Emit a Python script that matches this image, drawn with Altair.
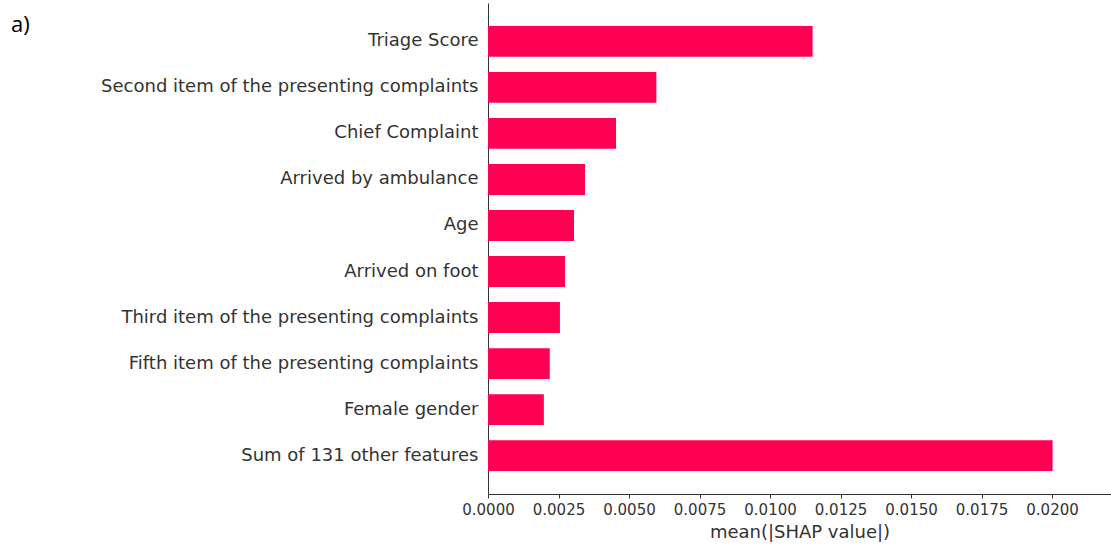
import altair as alt
import pandas as pd

features = [
    "Triage Score",
    "Second item of the presenting complaints",
    "Chief Complaint",
    "Arrived by ambulance",
    "Age",
    "Arrived on foot",
    "Third item of the presenting complaints",
    "Fifth item of the presenting complaints",
    "Female gender",
    "Sum of 131 other features",
]
mean_abs_shap = [0.01151, 0.00597, 0.00454, 0.00344, 0.00305, 0.00273, 0.00255, 0.00219, 0.00198, 0.02002]
x_ticks = [0.0, 0.0025, 0.005, 0.0075, 0.01, 0.0125, 0.015, 0.0175, 0.02]
panel_label = ["a)"]

df = pd.DataFrame({"feature": features, "value": mean_abs_shap})

bars = alt.Chart(df).mark_bar(color="#ff0052").encode(
    x=alt.X(
        "value:Q",
        scale=alt.Scale(domain=[0, 0.02209], nice=False, zero=True),
        axis=alt.Axis(
            title="mean(|SHAP value|)",
            values=x_ticks,
            format=".4f",
            grid=False,
            tickSize=4,
            tickColor="#333333",
            domainColor="#333333",
            labelFontSize=15,
            labelPadding=4,
            labelColor="#333333",
            labelFont="DejaVu Sans",
            labelOverlap=False,
            labelFlush=False,
            titleFont="DejaVu Sans",
            titleFontSize=18,
            titleFontWeight="normal",
            titleColor="#333333",
            titlePadding=6,
        ),
    ),
    y=alt.Y(
        "feature:N",
        sort=features,
        scale=alt.Scale(paddingInner=0.33, paddingOuter=0.5),
        axis=alt.Axis(
            title=None,
            ticks=False,
            domainColor="#333333",
            labelFontSize=18,
            labelFont="DejaVu Sans",
            labelColor="#333333",
            labelPadding=10,
            labelLimit=600,
        ),
    ),
)

label = alt.Chart(pd.DataFrame({"t": panel_label})).mark_text(
    align="left", baseline="middle", fontSize=22, font="Open Sans", color="#000000"
).encode(
    text="t:N",
    x=alt.value(-477),
    y=alt.value(22),
)

chart = alt.layer(bars, label).properties(
    width=623,
    height=491,
    autosize=alt.AutoSizeParams(type="none"),
    padding={"left": 488, "top": 3, "right": 0, "bottom": 53},
).configure_view(stroke=None)

chart.save("out.html", embed_options={"renderer": "svg", "actions": False})
